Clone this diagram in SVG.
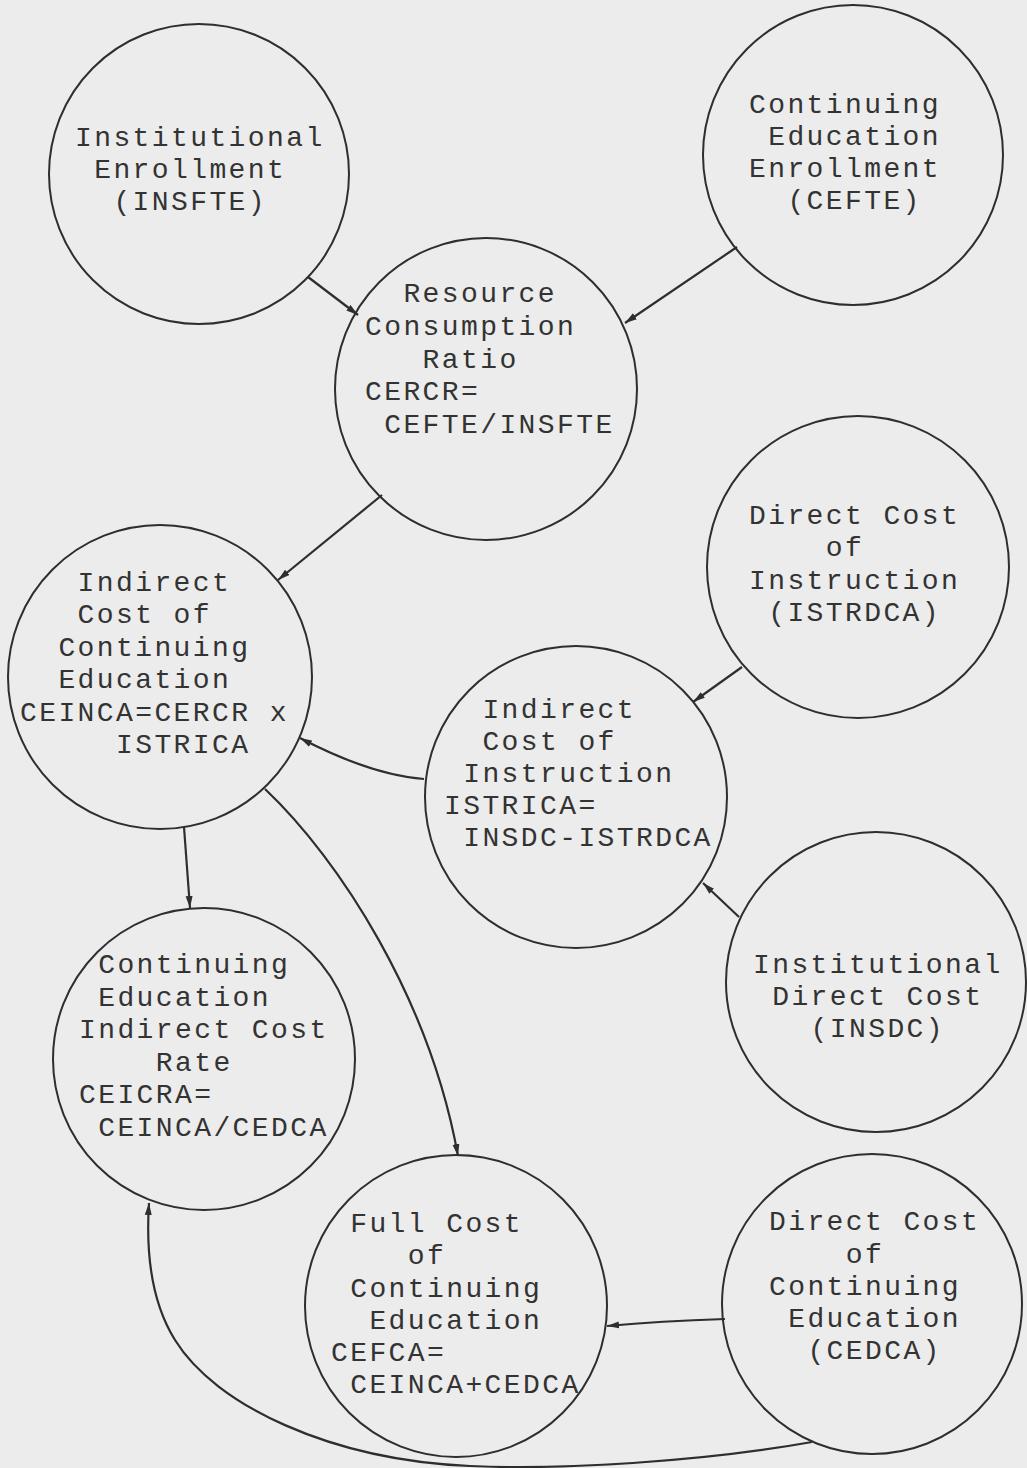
<svg xmlns="http://www.w3.org/2000/svg" width="1027" height="1468" viewBox="0 0 1027 1468">
<style>
.node circle{fill:none;stroke:#2e2e2e;stroke-width:2}
.node text{font-family:"Liberation Mono","DejaVu Sans Mono",monospace;font-size:28px;letter-spacing:2.4px;fill:#333}
.conn path{fill:none;stroke:#2e2e2e;stroke-width:2.2;marker-end:url(#ah)}
</style>
<defs>
<marker id="ah" viewBox="0 0 12 8" markerWidth="12" markerHeight="8" refX="12" refY="4" orient="auto" markerUnits="userSpaceOnUse">
<path d="M0,0.5 L12,4 L0,7.5 Z" fill="#2e2e2e"/>
</marker>
</defs>
<rect width="1027" height="1468" fill="#ececec"/>

<g id="n-insfte" class="node">
<circle cx="199" cy="174" r="150"/>
<text x="75" y="146">Institutional</text>
<text x="94.2" y="178">Enrollment</text>
<text x="113.4" y="210">(INSFTE)</text>
</g>

<g id="n-cefte" class="node">
<circle cx="853" cy="155" r="150"/>
<text x="749" y="113">Continuing</text>
<text x="768.2" y="145">Education</text>
<text x="749" y="177">Enrollment</text>
<text x="787.4" y="209">(CEFTE)</text>
</g>

<g id="n-cercr" class="node">
<circle cx="486" cy="389" r="151"/>
<text x="403.4" y="302">Resource</text>
<text x="365" y="335">Consumption</text>
<text x="422.6" y="367.5">Ratio</text>
<text x="365" y="400">CERCR=</text>
<text x="384.2" y="433">CEFTE/INSFTE</text>
</g>

<g id="n-istrdca" class="node">
<circle cx="858" cy="567" r="151"/>
<text x="749" y="524">Direct Cost</text>
<text x="825.8" y="556">of</text>
<text x="749" y="589">Instruction</text>
<text x="768.2" y="621">(ISTRDCA)</text>
</g>

<g id="n-ceinca" class="node">
<circle cx="160" cy="677" r="152"/>
<text x="77.6" y="591">Indirect</text>
<text x="77.6" y="623">Cost of</text>
<text x="58.4" y="656">Continuing</text>
<text x="58.4" y="688">Education</text>
<text x="20" y="721">CEINCA=CERCR x</text>
<text x="116" y="753">ISTRICA</text>
</g>

<g id="n-istrica" class="node">
<circle cx="576" cy="797" r="151"/>
<text x="482.4" y="718">Indirect</text>
<text x="482.4" y="750">Cost of</text>
<text x="463.2" y="782">Instruction</text>
<text x="444" y="814">ISTRICA=</text>
<text x="463.2" y="846">INSDC-ISTRDCA</text>
</g>

<g id="n-insdc" class="node">
<circle cx="876" cy="982" r="150"/>
<text x="753" y="973">Institutional</text>
<text x="772.2" y="1005">Direct Cost</text>
<text x="810.6" y="1037">(INSDC)</text>
</g>

<g id="n-ceicra" class="node">
<circle cx="204" cy="1059" r="151"/>
<text x="98.2" y="973">Continuing</text>
<text x="98.2" y="1005.6">Education</text>
<text x="79" y="1038.2">Indirect Cost</text>
<text x="155.8" y="1070.8">Rate</text>
<text x="79" y="1103.4">CEICRA=</text>
<text x="98.2" y="1136">CEINCA/CEDCA</text>
</g>

<g id="n-cefca" class="node">
<circle cx="456" cy="1306" r="151"/>
<text x="350.2" y="1232">Full Cost</text>
<text x="407.8" y="1264">of</text>
<text x="350.2" y="1297">Continuing</text>
<text x="369.4" y="1329">Education</text>
<text x="331" y="1361">CEFCA=</text>
<text x="350.2" y="1393">CEINCA+CEDCA</text>
</g>

<g id="n-cedca" class="node">
<circle cx="872" cy="1304" r="150"/>
<text x="769" y="1230">Direct Cost</text>
<text x="845.8" y="1263">of</text>
<text x="769" y="1295">Continuing</text>
<text x="788.2" y="1327">Education</text>
<text x="807.4" y="1359">(CEDCA)</text>
</g>

<g id="connectors" class="conn">
<path d="M308,277 L358,315"/>
<path d="M737,247 L625,323"/>
<path d="M382,495 L278,580"/>
<path d="M742,667 L693,702"/>
<path d="M424,779 Q371,775 300,738"/>
<path d="M739,917 L703,883"/>
<path d="M184,827 L190,908"/>
<path d="M265,789 C340,860 430,1000 458,1156"/>
<path d="M725,1319 Q660,1321 607,1326"/>
<path d="M812,1442 C700,1462 560,1470 470,1466 C330,1460 215,1405 175,1340 C150,1300 146,1250 149,1203"/>
</g>
</svg>
